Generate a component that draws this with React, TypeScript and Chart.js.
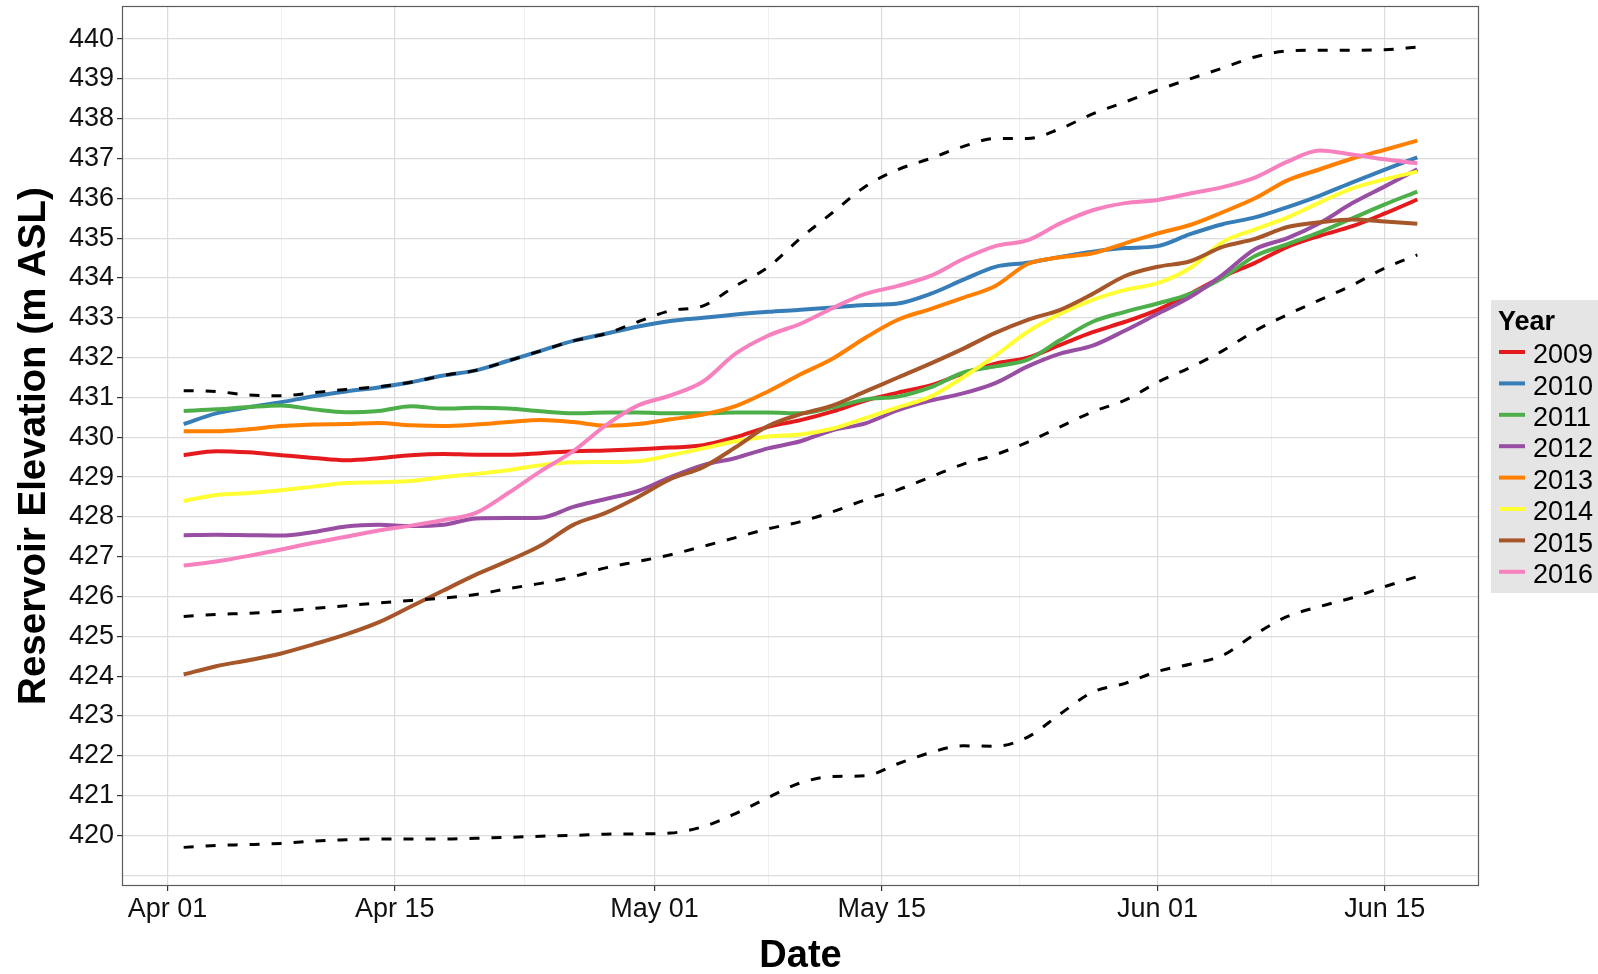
import React, { useEffect, useRef } from "react";
import { Chart, registerables } from "chart.js";

Chart.register(...registerables);

// Days after Apr 01 (Apr 02 = 1 ... Jun 17 = 77), one reading every second day
const DAYS = [1, 3, 5, 7, 9, 11, 13, 15, 17, 19, 21, 23, 25, 27, 29, 31, 33, 35, 37, 39, 41, 43, 45, 47, 49, 51, 53, 55, 57, 59, 61, 63, 65, 67, 69, 71, 73, 75, 77];

const YEARS = ["2009", "2010", "2011", "2012", "2013", "2014", "2015", "2016"];
const YEAR_COLORS = ["#E41A1C", "#377EB8", "#4DAF4A", "#984EA3", "#FF7F00", "#FFFF33", "#A65628", "#F781BF"];

const ELEV_2009 = [429.55, 429.65, 429.62, 429.55, 429.48, 429.42, 429.47, 429.55, 429.58, 429.56, 429.56, 429.6, 429.65, 429.67, 429.7, 429.74, 429.8, 430.0, 430.26, 430.43, 430.65, 430.92, 431.12, 431.3, 431.6, 431.85, 432.0, 432.32, 432.64, 432.9, 433.2, 433.6, 434.03, 434.38, 434.78, 435.06, 435.3, 435.62, 435.97];
const ELEV_2010 = [430.33, 430.6, 430.75, 430.88, 431.03, 431.15, 431.25, 431.38, 431.55, 431.68, 431.92, 432.17, 432.42, 432.6, 432.78, 432.92, 433.0, 433.08, 433.15, 433.2, 433.26, 433.32, 433.36, 433.6, 433.95, 434.28, 434.38, 434.53, 434.66, 434.75, 434.8, 435.1, 435.35, 435.52, 435.78, 436.07, 436.4, 436.72, 437.03];
const ELEV_2011 = [430.66, 430.7, 430.76, 430.8, 430.7, 430.63, 430.66, 430.78, 430.72, 430.74, 430.72, 430.65, 430.6, 430.62, 430.62, 430.6, 430.6, 430.62, 430.62, 430.6, 430.75, 430.95, 431.02, 431.25, 431.62, 431.78, 431.95, 432.44, 432.9, 433.15, 433.36, 433.6, 434.0, 434.55, 434.85, 435.15, 435.5, 435.85, 436.17];
const ELEV_2012 = [427.54, 427.55, 427.54, 427.53, 427.62, 427.76, 427.8, 427.77, 427.8, 427.96, 427.97, 427.98, 428.25, 428.45, 428.65, 429.0, 429.3, 429.48, 429.72, 429.9, 430.18, 430.35, 430.68, 430.92, 431.1, 431.36, 431.78, 432.1, 432.3, 432.68, 433.1, 433.52, 434.08, 434.72, 435.0, 435.38, 435.88, 436.3, 436.73];
const ELEV_2013 = [430.15, 430.15, 430.2, 430.28, 430.32, 430.33, 430.36, 430.3, 430.28, 430.32, 430.38, 430.43, 430.38, 430.29, 430.33, 430.45, 430.57, 430.78, 431.15, 431.58, 431.98, 432.5, 432.95, 433.22, 433.5, 433.8, 434.35, 434.52, 434.62, 434.87, 435.12, 435.33, 435.65, 436.0, 436.45, 436.73, 437.0, 437.22, 437.45];
const ELEV_2014 = [428.4, 428.55, 428.6, 428.67, 428.76, 428.85, 428.87, 428.9, 429.0, 429.08, 429.17, 429.3, 429.37, 429.38, 429.4, 429.55, 429.72, 429.9, 430.02, 430.07, 430.22, 430.48, 430.75, 431.02, 431.5, 432.05, 432.65, 433.1, 433.45, 433.7, 433.87, 434.25, 434.9, 435.22, 435.52, 435.9, 436.25, 436.48, 436.67];
const ELEV_2015 = [424.04, 424.25, 424.4, 424.57, 424.8, 425.05, 425.35, 425.75, 426.15, 426.55, 426.9, 427.28, 427.8, 428.1, 428.5, 428.95, 429.25, 429.75, 430.28, 430.58, 430.8, 431.15, 431.5, 431.85, 432.22, 432.62, 432.95, 433.2, 433.6, 434.05, 434.28, 434.42, 434.78, 434.98, 435.28, 435.4, 435.47, 435.42, 435.36];
const ELEV_2016 = [426.78, 426.88, 427.02, 427.18, 427.35, 427.5, 427.66, 427.78, 427.92, 428.1, 428.6, 429.15, 429.65, 430.3, 430.8, 431.05, 431.4, 432.1, 432.55, 432.85, 433.25, 433.6, 433.8, 434.05, 434.47, 434.8, 434.95, 435.37, 435.7, 435.88, 435.96, 436.12, 436.28, 436.52, 436.92, 437.2, 437.1, 436.98, 436.88];

// Reference envelope lines (black dashed)
const ENV_HIGH = [431.17, 431.15, 431.06, 431.04, 431.12, 431.2, 431.27, 431.38, 431.55, 431.68, 431.92, 432.17, 432.42, 432.6, 432.9, 433.18, 433.3, 433.8, 434.27, 435.0, 435.65, 436.3, 436.72, 437.0, 437.3, 437.5, 437.5, 437.75, 438.12, 438.42, 438.72, 439.0, 439.27, 439.55, 439.7, 439.72, 439.72, 439.73, 439.8];
const ENV_MID = [425.5, 425.55, 425.58, 425.63, 425.7, 425.77, 425.84, 425.9, 425.96, 426.05, 426.2, 426.33, 426.5, 426.72, 426.88, 427.05, 427.26, 427.48, 427.7, 427.88, 428.13, 428.43, 428.68, 429.0, 429.32, 429.56, 429.88, 430.26, 430.64, 430.93, 431.38, 431.75, 432.17, 432.67, 433.08, 433.45, 433.82, 434.25, 434.58];
const ENV_LOW = [419.7, 419.75, 419.77, 419.8, 419.86, 419.89, 419.91, 419.91, 419.91, 419.93, 419.95, 419.98, 420.0, 420.03, 420.04, 420.06, 420.22, 420.55, 420.95, 421.32, 421.48, 421.5, 421.8, 422.08, 422.25, 422.24, 422.47, 423.05, 423.6, 423.82, 424.12, 424.3, 424.52, 425.05, 425.5, 425.75, 425.97, 426.25, 426.5];

const YEAR_SERIES = [ELEV_2009, ELEV_2010, ELEV_2011, ELEV_2012, ELEV_2013, ELEV_2014, ELEV_2015, ELEV_2016];
const ENVELOPES = [ENV_HIGH, ENV_MID, ENV_LOW];

// Axis ticks (x in days after Apr 01)
const X_MAJOR_TICKS = [0, 14, 30, 44, 61, 75];
const X_MAJOR_LABELS = ["Apr 01", "Apr 15", "May 01", "May 15", "Jun 01", "Jun 15"];
const X_MINOR_TICKS = [7, 22, 37, 52.5, 68];
const Y_TICKS = [420, 421, 422, 423, 424, 425, 426, 427, 428, 429, 430, 431, 432, 433, 434, 435, 436, 437, 438, 439, 440];
const Y_EXTRA_GRID = [419];

const FONT = '"Liberation Sans", Arial, Helvetica, sans-serif';

const toPoints = (arr: number[]) => arr.map((v, i) => ({ x: DAYS[i], y: v }));

const panelBorder = {
  id: "panelBorder",
  afterDatasetsDraw(chart: any) {
    const { ctx, chartArea } = chart;
    ctx.save();
    ctx.strokeStyle = "#5c5c5c";
    ctx.lineWidth = 1.2;
    ctx.strokeRect(chartArea.left + 0.5, chartArea.top + 0.5, chartArea.right - chartArea.left - 1, chartArea.bottom - chartArea.top - 1);
    ctx.restore();
  },
};

const yearLegend = {
  id: "yearLegend",
  afterDraw(chart: any) {
    const ctx = chart.ctx;
    ctx.save();
    ctx.fillStyle = "#e5e5e5";
    ctx.fillRect(1491, 300, 107, 293);
    ctx.fillStyle = "#000";
    ctx.textAlign = "left";
    ctx.textBaseline = "alphabetic";
    ctx.font = `bold 27px ${FONT}`;
    ctx.fillText("Year", 1498, 329.5);
    ctx.font = `27px ${FONT}`;
    YEARS.forEach((yr, i) => {
      const c = 353.5 + i * 31.4;
      ctx.strokeStyle = YEAR_COLORS[i];
      ctx.lineWidth = 4;
      ctx.beginPath();
      ctx.moveTo(1499, c - 1.5);
      ctx.lineTo(1525, c - 1.5);
      ctx.stroke();
      ctx.fillStyle = "#000";
      ctx.fillText(yr, 1533, c + 9.7);
    });
    ctx.restore();
  },
};

export default function App() {
  const ref = useRef<HTMLCanvasElement | null>(null);

  useEffect(() => {
    if (!ref.current) return;
    const yearSets = YEARS.map((yr, i) => ({
      label: yr,
      data: toPoints(YEAR_SERIES[i]),
      borderColor: YEAR_COLORS[i],
      backgroundColor: YEAR_COLORS[i],
      borderWidth: 4,
      pointRadius: 0,
      fill: false,
      cubicInterpolationMode: "monotone" as const,
      order: YEARS.length - i,
    }));
    const envSets = ENVELOPES.map((env, i) => ({
      label: "env" + i,
      data: toPoints(env),
      borderColor: "#000",
      borderWidth: 3,
      borderDash: [10, 12],
      pointRadius: 0,
      fill: false,
      cubicInterpolationMode: "monotone" as const,
      order: 0,
    }));

    const chart = new Chart(ref.current, {
      type: "line",
      data: { datasets: [...envSets, ...yearSets] as any },
      plugins: [panelBorder, yearLegend],
      options: {
        animation: false,
        responsive: true,
        maintainAspectRatio: false,
        devicePixelRatio: 1,
        layout: { padding: { left: 0, top: 6, right: 119, bottom: 0 } },
        plugins: { legend: { display: false }, tooltip: { enabled: false } },
        scales: {
          x: {
            type: "linear",
            min: -2.8,
            max: 80.8,
            border: { display: false },
            afterBuildTicks: (scale: any) => {
              scale.ticks = [...X_MAJOR_TICKS, ...X_MINOR_TICKS].sort((a, b) => a - b).map((v) => ({ value: v }));
            },
            afterFit: (scale: any) => {
              scale.height = 88;
              scale.paddingLeft = 0;
              scale.paddingRight = 0;
            },
            grid: {
              color: (c: any) => (X_MAJOR_TICKS.includes(c.tick?.value) ? "#dcdcdc" : "#ececec"),
              lineWidth: (c: any) => (X_MAJOR_TICKS.includes(c.tick?.value) ? 1.2 : 0.8),
              tickColor: (c: any) => (X_MAJOR_TICKS.includes(c.tick?.value) ? "#333" : "rgba(0,0,0,0)"),
              tickLength: 5,
              tickWidth: 1.2,
            },
            ticks: {
              autoSkip: false,
              maxRotation: 0,
              minRotation: 0,
              padding: 2,
              color: "#111",
              font: { family: FONT, size: 27 },
              callback: (value: any) => {
                const i = X_MAJOR_TICKS.indexOf(Number(value));
                return i >= 0 ? X_MAJOR_LABELS[i] : "";
              },
            },
            title: {
              display: true,
              text: "Date",
              color: "#000",
              font: { family: FONT, size: 38, weight: "bold", lineHeight: 1 },
              padding: { top: 0, bottom: -2 },
            },
          },
          y: {
            type: "linear",
            min: 418.73,
            max: 440.83,
            border: { display: false },
            afterBuildTicks: (scale: any) => {
              scale.ticks = [...Y_EXTRA_GRID, ...Y_TICKS].sort((a, b) => a - b).map((v) => ({ value: v }));
            },
            afterFit: (scale: any) => {
              scale.width = 122;
              scale.paddingTop = 0;
              scale.paddingBottom = 0;
            },
            grid: {
              color: "#dcdcdc",
              lineWidth: 1.2,
              tickColor: (c: any) => (Y_TICKS.includes(c.tick?.value) ? "#333" : "rgba(0,0,0,0)"),
              tickLength: 5,
              tickWidth: 1.2,
            },
            ticks: {
              autoSkip: false,
              padding: 3,
              color: "#111",
              font: { family: FONT, size: 27 },
              callback: (value: any) => (Y_TICKS.includes(Number(value)) ? String(value) : ""),
            },
            title: {
              display: true,
              text: "Reservoir Elevation (m ASL)",
              color: "#000",
              font: { family: FONT, size: 38.5, weight: "bold", lineHeight: 1 },
              padding: { top: 15, bottom: 0 },
            },
          },
        },
      } as any,
    });
    return () => chart.destroy();
  }, []);

  return (
    <div style={{ position: "absolute", left: 0, top: 0, width: 1598, height: 974, background: "#fff" }}>
      <canvas ref={ref} />
    </div>
  );
}
